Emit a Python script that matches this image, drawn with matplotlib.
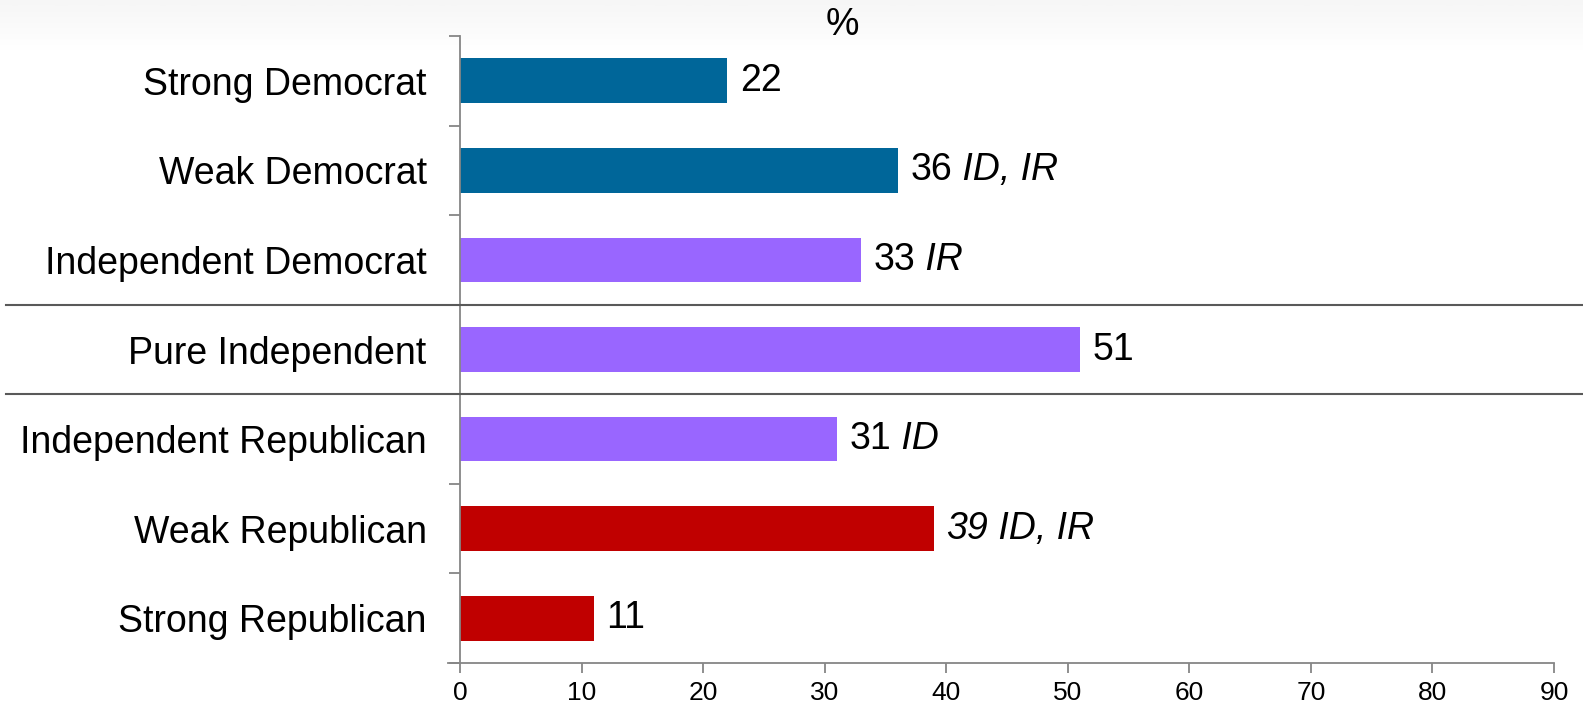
import numpy as np
import matplotlib
matplotlib.use("Agg")
import matplotlib.pyplot as plt
from matplotlib.lines import Line2D
from matplotlib.transforms import blended_transform_factory

plt.rcParams['font.family'] = ['Liberation Sans', 'DejaVu Sans']

categories = ["Strong Democrat", "Weak Democrat", "Independent Democrat",
              "Pure Independent", "Independent Republican", "Weak Republican",
              "Strong Republican"]
values = [22, 36, 33, 51, 31, 39, 11]
notes = ["", "ID, IR", "IR", "", "ID", "ID, IR", ""]
all_italic = [False, False, False, False, False, True, False]
colors = ["#006699", "#006699", "#9966FF", "#9966FF", "#9966FF", "#C00000", "#C00000"]
xticks = [0, 10, 20, 30, 40, 50, 60, 70, 80, 90]

fig = plt.figure(figsize=(15.83, 7.08), dpi=100)

# light gray gradient band at the top of the slide
bg = fig.add_axes([0, 0.925, 1, 0.075], zorder=-5)
grad = np.linspace(1.0, 0.0, 50).reshape(-1, 1)
bg.imshow(grad, aspect='auto', cmap='Greys', vmin=0, vmax=13, extent=[0, 1, 0, 1])
bg.axis('off')

ax = fig.add_axes([0.2906, 0.0636, 0.9817 - 0.2906, 0.949 - 0.0636])
ax.patch.set_alpha(0)
y = np.arange(len(categories))
ax.barh(y, values, height=0.5, color=colors)
ax.set_xlim(0, 90)
ax.set_ylim(len(categories) - 0.5, -0.5)

ax.set_yticks(y)
ax.set_yticklabels(categories, fontsize=27)
ax.set_yticks(np.arange(len(categories) + 1) - 0.5, minor=True)
ax.tick_params(axis='y', which='major', length=0, pad=24)
ax.tick_params(axis='y', which='minor', length=8, color='#868686', width=1.3)
ax.set_xticks(xticks)
ax.tick_params(axis='x', length=7, color='#868686', width=1.3, labelsize=19, pad=6)

for s in ['top', 'right']:
    ax.spines[s].set_visible(False)
for s in ['left', 'bottom']:
    ax.spines[s].set_color('#868686')
    ax.spines[s].set_linewidth(1.3)
ax.spines['bottom'].set_bounds(-1.0, 90)

for i, (v, n, it) in enumerate(zip(values, notes, all_italic)):
    style = 'italic' if it else 'normal'
    t = ax.annotate(str(v), xy=(v, i), xytext=(9, 0), textcoords='offset points',
                    va='center', ha='left', fontsize=27, style=style)
    if n:
        ax.annotate(" " + n, xy=(1, 0), xycoords=t, va='bottom', ha='left',
                    fontsize=27, style='italic')

# separators around the pure independents
tr = blended_transform_factory(fig.transFigure, ax.transData)
for yy in [2.5, 3.5]:
    fig.add_artist(Line2D([0.004, 1.0], [yy, yy], transform=tr,
                          color='#595959', linewidth=1.5))

fig.text(0.532, 0.965, "%", ha='center', va='center', fontsize=27)

fig.savefig("out.png", dpi=100)
